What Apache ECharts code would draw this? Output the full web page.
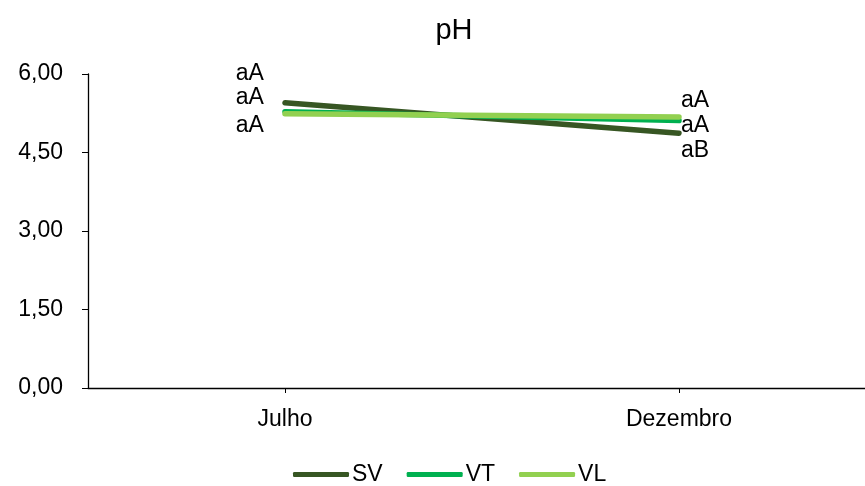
<!DOCTYPE html>
<html><head><meta charset="utf-8">
<script src="https://cdn.jsdelivr.net/npm/echarts@6/dist/echarts.min.js"></script>
<style>html,body{margin:0;padding:0;background:#fff;overflow:hidden;width:865px;height:486px}#c{width:885px;height:486px}</style>
</head><body><div id="c"></div>
<script>
const categories = ['Julho', 'Dezembro'];
const seriesNames = ['SV', 'VT', 'VL'];
const svValues = [5.45, 4.87];
const vtValues = [5.28, 5.11];
const vlValues = [5.24, 5.18];
const svLabels = ['aA', 'aB'];
const vtLabels = ['aA', 'aA'];
const vlLabels = ['aA', 'aA'];
const yTicks = [0, 1.5, 3, 4.5, 6];

const colors = ['#375623', '#00B050', '#92D050'];
const font = 'Liberation Sans, Arial, sans-serif';
const fs = 23;
// label offsets per series per point [Julho, Dezembro] (pixels)
const labelOffsets = {
  SV: [[-16, -29], [-3, 18]],
  VT: [[-16, -14], [-3, 5]],
  VL: [[-16, 12], [-3, -16.5]]
};
function mk(name, vals, labs, idx) {
  return {
    name: name, type: 'line',
    data: vals.map((v, i) => ({
      value: v,
      label: {
        show: true, formatter: labs[i],
        position: i === 0 ? 'left' : 'right',
        offset: labelOffsets[name][i],
        color: '#000', fontSize: fs, fontFamily: font
      }
    })),
    symbol: 'circle', symbolSize: 0.1, showSymbol: true,
    label: { show: true },
    lineStyle: { color: colors[idx], width: 5.5, cap: 'round' },
    itemStyle: { color: colors[idx] },
    z: 2 + idx
  };
}
const chart = echarts.init(document.getElementById('c'), null, { renderer: 'canvas' });
chart.setOption({
  animation: false,
  title: { text: 'pH', left: 449, textAlign: 'center', top: 11, textStyle: { fontSize: 29, fontWeight: 'normal', color: '#000', fontFamily: font } },
  grid: { left: 88, top: 74, width: 788, height: 314, containLabel: false },
  legend: {
    top: 458, left: 288, itemWidth: 56, itemHeight: 5, itemGap: 24,
    data: seriesNames.map((n, i) => ({ name: n, icon: 'roundRect', itemStyle: { color: colors[i] } })),
    textStyle: { fontSize: fs, color: '#000', fontFamily: font, padding: [0, 0, 0, -2] }
  },
  xAxis: {
    type: 'category', data: categories, boundaryGap: true,
    axisLine: { lineStyle: { color: '#000', width: 1.3 } },
    axisTick: { show: true, alignWithLabel: true, length: 5, lineStyle: { color: '#000' } },
    axisLabel: { color: '#000', fontSize: fs, fontFamily: font, margin: 20 },
    splitLine: { show: false }
  },
  yAxis: {
    type: 'value', min: 0, max: 6, interval: 1.5,
    axisLine: { show: true, lineStyle: { color: '#000', width: 1.3 } },
    axisTick: { show: true, length: 6, lineStyle: { color: '#000' } },
    axisLabel: { color: '#000', fontSize: fs, fontFamily: font, margin: 25,
      formatter: v => v.toFixed(2).replace('.', ',') },
    splitLine: { show: false }
  },
  series: [mk('SV', svValues, svLabels, 0), mk('VT', vtValues, vtLabels, 1), mk('VL', vlValues, vlLabels, 2)]
});
</script></body></html>
